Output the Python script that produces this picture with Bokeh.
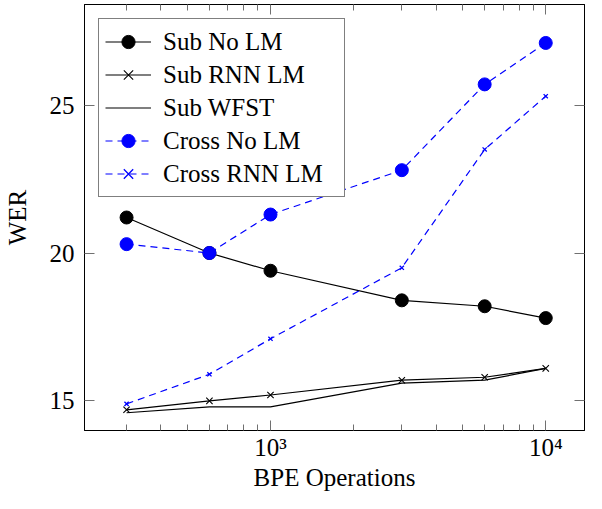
from bokeh.plotting import figure
from bokeh.models import (LogAxis, LinearAxis, FixedTicker, Range1d, Legend,
                          LegendItem, ColumnDataSource)
from bokeh.embed import file_html
from bokeh.resources import INLINE

# ---- data ----
bpe = [300, 600, 1000, 3000, 6000, 10000]
sub_no_lm = [21.2, 20.0, 19.4, 18.4, 18.2, 17.8]
sub_rnn_lm = [14.7, 15.0, 15.2, 15.7, 15.8, 16.1]
sub_wfst = [14.6, 14.8, 14.8, 15.6, 15.7, 16.1]
cross_no_lm = [20.3, 20.0, 21.3, 22.8, 25.7, 27.1]
cross_rnn_lm = [14.9, 15.9, 17.1, 19.5, 23.5, 25.3]

series_names = ["Sub No LM", "Sub RNN LM", "Sub WFST", "Cross No LM", "Cross RNN LM"]

x_major = [1000, 10000]
x_minor = [300, 400, 500, 600, 700, 800, 900,
           2000, 3000, 4000, 5000, 6000, 7000, 8000, 9000]
x_tick_labels = {1000: "10³", 10000: "10⁴"}
y_major = [15, 20, 25]

FONT = "Liberation Serif"
FS = "25px"
BLUE = "#0000ff"
TICK = "#707070"

src = ColumnDataSource(dict(x=bpe, sub_no=sub_no_lm, sub_rnn=sub_rnn_lm,
                            sub_wfst=sub_wfst, cross_no=cross_no_lm,
                            cross_rnn=cross_rnn_lm))

p = figure(width=586, height=493, x_axis_type="log",
           x_range=Range1d(211, 13830), y_range=Range1d(14.0, 28.4),
           output_backend="svg", toolbar_location=None,
           min_border_left=70, min_border_right=2, min_border_top=4,
           min_border_bottom=40)

p.background_fill_color = "white"
p.border_fill_color = "white"
p.outline_line_color = "black"
p.outline_line_width = 1
p.xgrid.visible = False
p.ygrid.visible = False

def style_axis(ax, minor=True):
    ax.axis_line_color = "black"
    ax.axis_line_width = 1
    ax.major_tick_in = 10
    ax.major_tick_out = 0
    ax.major_tick_line_color = TICK
    ax.minor_tick_in = 6 if minor else 0
    ax.minor_tick_out = 0
    ax.minor_tick_line_color = TICK
    ax.major_label_text_font = FONT
    ax.major_label_text_font_size = FS
    ax.major_label_text_color = "black"
    ax.axis_label_text_font = FONT
    ax.axis_label_text_font_size = FS
    ax.axis_label_text_font_style = "normal"
    ax.axis_label_text_color = "black"

xt = FixedTicker(ticks=x_major, minor_ticks=x_minor)
yt = FixedTicker(ticks=y_major, minor_ticks=[])

xa = p.xaxis[0]
xa.ticker = xt
style_axis(xa)
xa.major_label_overrides = x_tick_labels
xa.major_label_standoff = 3
xa.axis_label = "BPE Operations"
xa.axis_label_standoff = 0

ya = p.yaxis[0]
ya.ticker = yt
style_axis(ya, minor=False)
ya.major_label_standoff = 10
ya.axis_label = "WER"
ya.axis_label_standoff = 16

top = LogAxis(ticker=FixedTicker(ticks=x_major, minor_ticks=x_minor))
style_axis(top)
top.major_label_text_font_size = "1px"
top.major_label_text_alpha = 0
top.major_label_standoff = 0
p.add_layout(top, "above")

right = LinearAxis(ticker=FixedTicker(ticks=y_major, minor_ticks=[]))
style_axis(right, minor=False)
right.major_label_text_font_size = "1px"
right.major_label_text_alpha = 0
right.major_label_standoff = 0
p.add_layout(right, "right")

# ---- series ----
l1 = p.line("x", "sub_no", source=src, line_color="black", line_width=1.2)
s1 = p.scatter("x", "sub_no", source=src, marker="circle", size=13,
               fill_color="black", line_color="black")

l2 = p.line("x", "sub_rnn", source=src, line_color="black", line_width=1.2)
s2 = p.scatter("x", "sub_rnn", source=src, marker="x", size=9,
               line_color="black", line_width=1.1)

l3 = p.line("x", "sub_wfst", source=src, line_color="black", line_width=1.2)

l4 = p.line("x", "cross_no", source=src, line_color=BLUE, line_width=1.2,
            line_dash="7 5")
s4 = p.scatter("x", "cross_no", source=src, marker="circle", size=13,
               fill_color=BLUE, line_color=BLUE)

l5 = p.line("x", "cross_rnn", source=src, line_color=BLUE, line_width=1.2,
            line_dash="7 5")
s5 = p.scatter("x", "cross_rnn", source=src, marker="x", size=6,
               line_color=BLUE, line_width=1.3)

items = [
    LegendItem(label=series_names[0], renderers=[l1, s1]),
    LegendItem(label=series_names[1], renderers=[l2, s2]),
    LegendItem(label=series_names[2], renderers=[l3]),
    LegendItem(label=series_names[3], renderers=[l4, s4]),
    LegendItem(label=series_names[4], renderers=[l5, s5]),
]
legend = Legend(items=items, location="top_left")
legend.margin = 14
legend.padding = 6
legend.spacing = 0
legend.glyph_width = 46
legend.glyph_height = 33
legend.label_height = 33
legend.label_width = 175
legend.label_standoff = 12
legend.label_text_font = FONT
legend.label_text_font_size = FS
legend.label_text_color = "black"
legend.border_line_color = "black"
legend.border_line_width = 1
legend.background_fill_color = "white"
legend.background_fill_alpha = 1.0
p.add_layout(legend, "center")

open("out.html", "w").write(file_html(p, INLINE))
